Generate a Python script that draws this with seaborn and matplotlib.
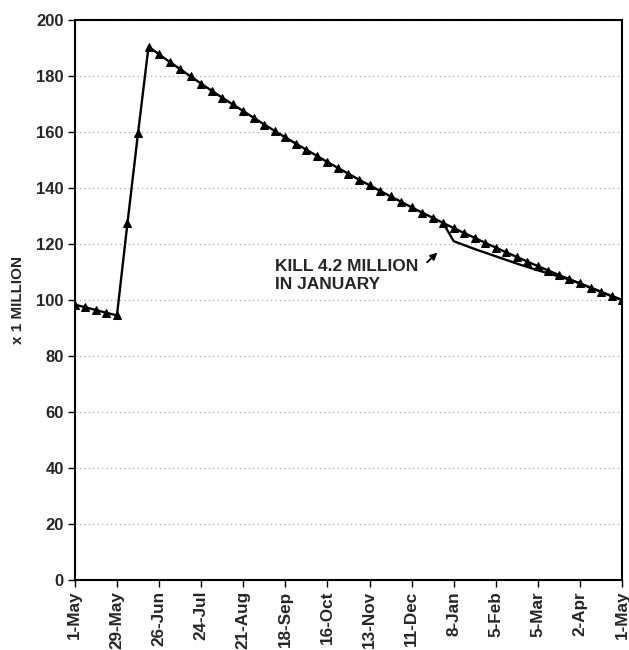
import matplotlib
matplotlib.use("Agg")
import matplotlib.pyplot as plt
import seaborn as sns
import pandas as pd
import numpy as np

# Weekly observations, day offset from 1-May
week_days = list(range(0, 365, 7))
population = [98.3, 97.4, 96.4, 95.4, 94.5, 127.5, 159.5, 190.5,
              187.8, 185.1, 182.5, 179.9, 177.3, 174.8, 172.3, 169.9,
              167.5, 165.1, 162.7, 160.4, 158.1, 155.9, 153.7, 151.5,
              149.3, 147.2, 145.1, 143.0, 141.0, 139.0, 137.0, 135.1,
              133.1, 131.2, 129.4, 127.5, 125.7, 123.9, 122.2, 120.4,
              118.7, 117.0, 115.4, 113.7, 112.1, 110.5, 108.9, 107.4,
              105.9, 104.4, 102.9, 101.4, 100.0]

kill_days = list(range(245, 365, 7))
kill_population = [127.5, 121.0, 119.6, 118.2, 116.9, 115.6, 114.3, 113.0,
                   111.8, 110.6, 109.5, 108.4, 107.3, 105.9, 104.4, 102.9,
                   101.4, 100.0]

tick_days = list(range(0, 365, 28))
tick_labels = ["1-May", "29-May", "26-Jun", "24-Jul", "21-Aug", "18-Sep",
               "16-Oct", "13-Nov", "11-Dec", "8-Jan", "5-Feb", "5-Mar",
               "2-Apr", "1-May"]
y_ticks = list(range(0, 201, 20))

sns.set_style("white")
plt.rcParams['font.family'] = ['Liberation Sans', 'DejaVu Sans']

fig = plt.figure(figsize=(6.29, 6.5), dpi=100)
ax = fig.add_axes([0.119, 0.108, 0.870, 0.861])

df_main = pd.DataFrame({"day": week_days, "pop": population})
df_kill = pd.DataFrame({"day": kill_days, "pop": kill_population})

sns.lineplot(data=df_kill, x="day", y="pop", ax=ax, color="black", lw=1.7)
sns.lineplot(data=df_main, x="day", y="pop", ax=ax, color="black", lw=1.7,
             marker="^", markersize=5.5, markerfacecolor="black",
             markeredgecolor="black")

ax.set_xlim(0, 364)
ax.set_ylim(0, 200)
ax.set_xticks(tick_days)
ax.set_xticklabels(tick_labels, rotation=90, fontsize=12.3, fontweight="bold")
ax.set_yticks(y_ticks)
ax.set_yticklabels([str(v) for v in y_ticks], fontsize=12, fontweight="bold")
ax.set_xlabel("")
ax.set_ylabel("x 1 MILLION", fontsize=11, fontweight="bold", labelpad=8)

ax.yaxis.grid(True, linestyle=(0, (1, 3)), color="#999999", lw=0.8)
ax.xaxis.grid(False)
for s in ax.spines.values():
    s.set_visible(True)
    s.set_color("black")
    s.set_linewidth(1.5)
ax.tick_params(axis="both", direction="out", length=5, width=1, color="black",
               bottom=True, left=True, pad=3)

ax.text(133, 108.8, "KILL 4.2 MILLION\nIN JANUARY", ha="left", va="center",
        fontsize=12.5, fontweight="bold", linespacing=1.3)
ax.annotate("", xy=(242.5, 117.6), xytext=(233, 112.8),
            arrowprops=dict(arrowstyle="-|>", color="black", lw=1.3,
                            mutation_scale=10))

fig.savefig("out.png", dpi=100)
